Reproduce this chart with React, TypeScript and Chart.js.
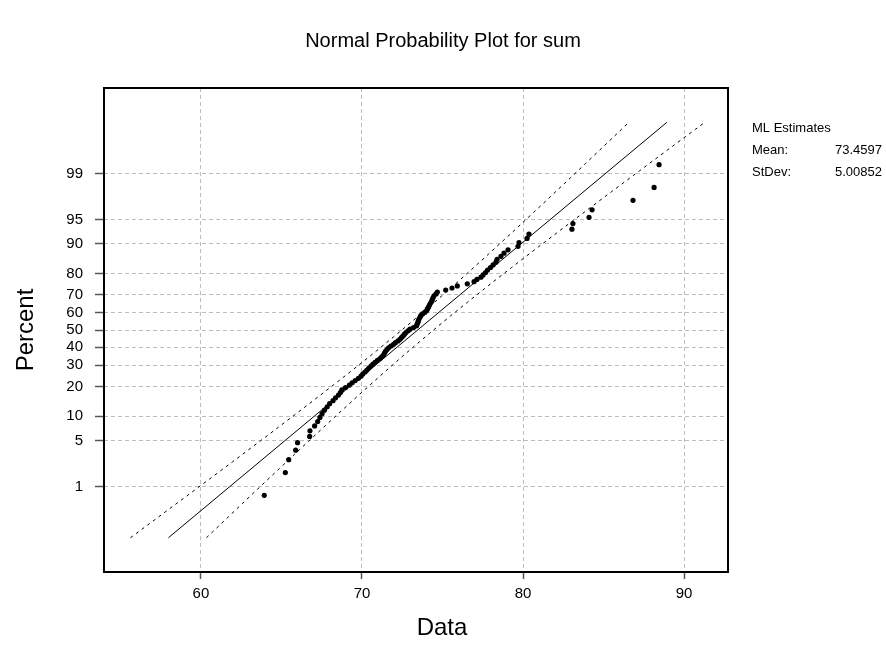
import React, { useEffect, useRef } from "react";
import { Chart, registerables } from "chart.js";

Chart.register(...registerables);

const TITLE = "Normal Probability Plot for sum";
const X_LABEL = "Data";
const Y_LABEL = "Percent";
const LEGEND_TITLE = "ML Estimates";
const LEGEND_ROWS = [
  ["Mean:", "73.4597"],
  ["StDev:", "5.00852"],
];
const MEAN = 73.4597;
const STDEV = 5.00852;
const PERCENT_TICKS = [1, 5, 10, 20, 30, 40, 50, 60, 70, 80, 90, 95, 99];
const X_TICKS = [60, 70, 80, 90];
const LINE_PERCENT_RANGE = [0.1, 99.9];

// observed values of "sum", sorted
const SUM_VALUES = [
  63.93, 65.24, 65.45, 65.88, 66.0, 66.75, 66.77, 67.06, 67.25, 67.39,
  67.52, 67.67, 67.84, 67.99, 68.2, 68.36, 68.54, 68.66, 68.75, 68.98,
  69.22, 69.39, 69.58, 69.78, 69.94, 70.05, 70.19, 70.31, 70.43, 70.56,
  70.68, 70.81, 70.96, 71.12, 71.24, 71.34, 71.4, 71.46, 71.55, 71.65,
  71.8, 71.96, 72.08, 72.24, 72.36, 72.45, 72.55, 72.64, 72.73, 72.86,
  72.98, 73.2, 73.39, 73.42, 73.47, 73.5, 73.54, 73.6, 73.65, 73.76,
  73.91, 74.02, 74.07, 74.14, 74.19, 74.25, 74.32, 74.37, 74.41, 74.47,
  74.6, 74.68, 75.2, 75.59, 75.92, 76.54, 76.96, 77.14, 77.39, 77.52,
  77.67, 77.8, 77.98, 78.14, 78.32, 78.39, 78.63, 78.82, 79.07, 79.69,
  79.75, 80.25, 80.37, 83.04, 83.1, 84.1, 84.29, 86.83, 88.14, 88.45,
];

// inverse standard normal CDF (Acklam)
function invNorm(p: number): number {
  const a = [-3.969683028665376e1, 2.209460984245205e2, -2.759285104469687e2, 1.38357751867269e2, -3.066479806614716e1, 2.506628277459239];
  const b = [-5.447609879822406e1, 1.615858368580409e2, -1.556989798598866e2, 6.680131188771972e1, -1.328068155288572e1];
  const c = [-7.784894002430293e-3, -3.223964580411365e-1, -2.400758277161838, -2.549732539343734, 4.374664141464968, 2.938163982698783];
  const d = [7.784695709041462e-3, 3.224671290700398e-1, 2.445134137142996, 3.754408661907416];
  const pl = 0.02425;
  let q: number, r: number;
  if (p < pl) {
    q = Math.sqrt(-2 * Math.log(p));
    return (((((c[0] * q + c[1]) * q + c[2]) * q + c[3]) * q + c[4]) * q + c[5]) / ((((d[0] * q + d[1]) * q + d[2]) * q + d[3]) * q + 1);
  }
  if (p <= 1 - pl) {
    q = p - 0.5;
    r = q * q;
    return ((((((a[0] * r + a[1]) * r + a[2]) * r + a[3]) * r + a[4]) * r + a[5]) * q) / (((((b[0] * r + b[1]) * r + b[2]) * r + b[3]) * r + b[4]) * r + 1);
  }
  q = Math.sqrt(-2 * Math.log(1 - p));
  return -(((((c[0] * q + c[1]) * q + c[2]) * q + c[3]) * q + c[4]) * q + c[5]) / ((((d[0] * q + d[1]) * q + d[2]) * q + d[3]) * q + 1);
}

const FONT = "'Liberation Sans', Arial, Helvetica, sans-serif";

export default function App() {
  const ref = useRef<HTMLCanvasElement | null>(null);

  useEffect(() => {
    document.body.style.margin = "0";
    const n = SUM_VALUES.length;
    const points = SUM_VALUES.map((v, i) => ({ x: v, y: invNorm((i + 1 - 0.3) / (n + 0.4)) }));

    const zLo = invNorm(LINE_PERCENT_RANGE[0] / 100);
    const zHi = invNorm(LINE_PERCENT_RANGE[1] / 100);
    const fit = [
      { x: MEAN + zLo * STDEV, y: zLo },
      { x: MEAN + zHi * STDEV, y: zHi },
    ];
    const lower: { x: number; y: number }[] = [];
    const upper: { x: number; y: number }[] = [];
    const steps = 60;
    for (let k = 0; k <= steps; k++) {
      const z = zLo + ((zHi - zLo) * k) / steps;
      const se = STDEV * Math.sqrt(1 / n + (z * z) / (2 * n));
      const c = MEAN + z * STDEV;
      upper.push({ x: c - 1.96 * se, y: z });
      lower.push({ x: c + 1.96 * se, y: z });
    }

    const textPlugin = {
      id: "texts",
      afterDraw(chart: any) {
        const ctx = chart.ctx as CanvasRenderingContext2D;
        const a = chart.chartArea;
        ctx.save();
        ctx.strokeStyle = "#000";
        ctx.lineWidth = 2;
        ctx.setLineDash([]);
        ctx.strokeRect(a.left, a.top, a.right - a.left, a.bottom - a.top);

        ctx.fillStyle = "#000";
        ctx.textBaseline = "middle";
        ctx.textAlign = "center";
        ctx.font = `20px ${FONT}`;
        ctx.fillText(TITLE, 443, 41);
        ctx.font = `24px ${FONT}`;
        ctx.fillText(X_LABEL, 442, 628);
        ctx.save();
        ctx.translate(26, 330);
        ctx.rotate(-Math.PI / 2);
        ctx.fillText(Y_LABEL, 0, 0);
        ctx.restore();

        ctx.font = `13px ${FONT}`;
        ctx.textAlign = "left";
        ctx.fillText(LEGEND_TITLE, 752, 128);
        LEGEND_ROWS.forEach((row, i) => {
          const y = 150 + i * 22;
          ctx.textAlign = "left";
          ctx.fillText(row[0], 752, y);
          ctx.textAlign = "right";
          ctx.fillText(row[1], 882, y);
        });
        ctx.restore();
      },
    };

    const chart = new Chart(ref.current as HTMLCanvasElement, {
      type: "scatter",
      data: {
        datasets: [
          {
            label: "fit",
            data: fit,
            showLine: true,
            borderColor: "#000",
            borderWidth: 1,
            pointRadius: 0,
          },
          {
            label: "upper",
            data: upper,
            showLine: true,
            borderColor: "#000",
            borderWidth: 1,
            borderDash: [3, 4],
            pointRadius: 0,
          },
          {
            label: "lower",
            data: lower,
            showLine: true,
            borderColor: "#000",
            borderWidth: 1,
            borderDash: [3, 4],
            pointRadius: 0,
          },
          {
            label: "sum",
            data: points,
            showLine: false,
            pointRadius: 2.6,
            pointBackgroundColor: "#000",
            pointBorderWidth: 0,
            borderColor: "#000",
          },
        ],
      },
      options: {
        animation: false,
        responsive: true,
        maintainAspectRatio: false,
        layout: { padding: { left: 0, top: 88, right: 158, bottom: 0 } },
        plugins: {
          legend: { display: false },
          title: { display: false },
          tooltip: { enabled: false },
        },
        scales: {
          x: {
            type: "linear",
            min: 53.98,
            max: 92.73,
            afterFit(scale: any) {
              scale.height = 73;
            },
            afterBuildTicks(scale: any) {
              scale.ticks = X_TICKS.map((v) => ({ value: v }));
            },
            ticks: {
              autoSkip: false,
              padding: 6,
              color: "#000",
              font: { family: FONT, size: 15 },
            },
            grid: {
              color: "#bdbdbd",
              lineWidth: 1,
              tickLength: 7,
              tickColor: "#555",
              tickWidth: 1.5,
              tickBorderDash: [],
            },
            border: { display: false, dash: [4, 3] },
          },
          y: {
            type: "linear",
            min: -3.6,
            max: 3.6,
            afterFit(scale: any) {
              scale.width = 104;
            },
            afterBuildTicks(scale: any) {
              scale.ticks = PERCENT_TICKS.map((p) => ({ value: invNorm(p / 100) }));
            },
            ticks: {
              autoSkip: false,
              padding: 12,
              color: "#000",
              font: { family: FONT, size: 15 },
              callback: (_v: any, i: number) => String(PERCENT_TICKS[i]),
            },
            grid: {
              color: "#bdbdbd",
              lineWidth: 1,
              tickLength: 9,
              tickColor: "#555",
              tickWidth: 1.5,
              tickBorderDash: [],
            },
            border: { display: false, dash: [4, 3] },
          },
        },
      },
      plugins: [textPlugin],
    } as any);

    return () => chart.destroy();
  }, []);

  return (
    <div style={{ width: 886, height: 645, position: "relative", background: "#fff" }}>
      <canvas ref={ref} />
    </div>
  );
}
